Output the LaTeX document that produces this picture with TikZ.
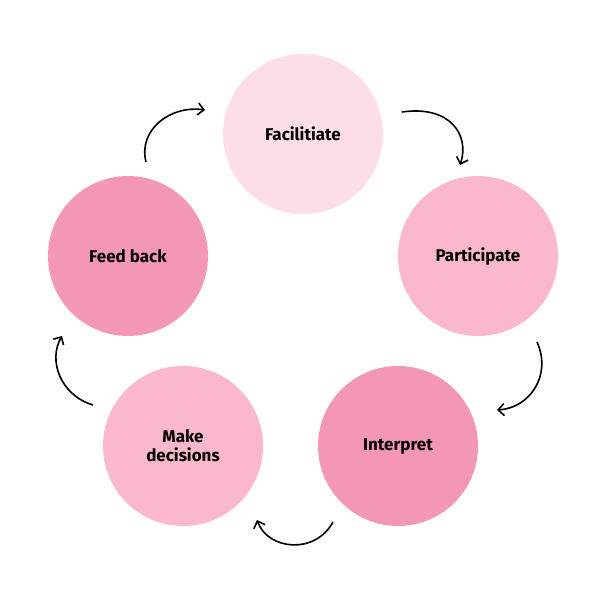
\documentclass[tikz,border=0pt]{standalone}
\usepackage{fontspec}
\setmainfont{Fira Sans}
\usetikzlibrary{arrows.meta}
\definecolor{pinkA}{HTML}{FDDDE6}
\definecolor{pinkB}{HTML}{FBB8CC}
\definecolor{pinkC}{HTML}{F497B6}
\begin{document}
\begin{tikzpicture}[x=1pt, y=-1pt, font=\fontsize{17}{19}\selectfont\bfseries]
  \tikzset{
    stage/.style={circle, minimum size=160pt, inner sep=0pt, align=center},
    flow/.style={line width=1.6pt, -{Straight Barb[length=6pt,width=12pt]}}
  }
  \useasboundingbox[fill=white] (0,0) rectangle (600,600);

  % Kringen
  \node[stage, fill=pinkA] (fac) at (303,134) {Facilitiate};
  \node[stage, fill=pinkB] (par) at (478,256) {Participate};
  \node[stage, fill=pinkC] (int) at (398,446) {Interpret};
  \node[stage, fill=pinkB] (mak) at (183,446) {Make\\decisions};
  \node[stage, fill=pinkC] (fee) at (128,256) {Feed back};

  % Pijlen
  \coordinate (a1) at (402,112); \coordinate (b1) at (460,165);
  \coordinate (a2) at (537,342); \coordinate (b2) at (497,410);
  \coordinate (a3) at (333,522); \coordinate (b3) at (257,520);
  \coordinate (a4) at (93,405);  \coordinate (b4) at (62,336);
  \coordinate (a5) at (146,162); \coordinate (b5) at (205,110);
  \draw[flow] (a1) .. controls (450,105) and (470,135) .. (b1);
  \draw[flow] (a2) .. controls (552,375) and (530,408) .. (b2);
  \draw[flow] (a3) .. controls (315,555) and (268,550) .. (b3);
  \draw[flow] (a4) .. controls (60,395) and (48,360) .. (b4);
  \draw[flow] (a5) .. controls (138,130) and (170,105) .. (b5);
\end{tikzpicture}
\end{document}
